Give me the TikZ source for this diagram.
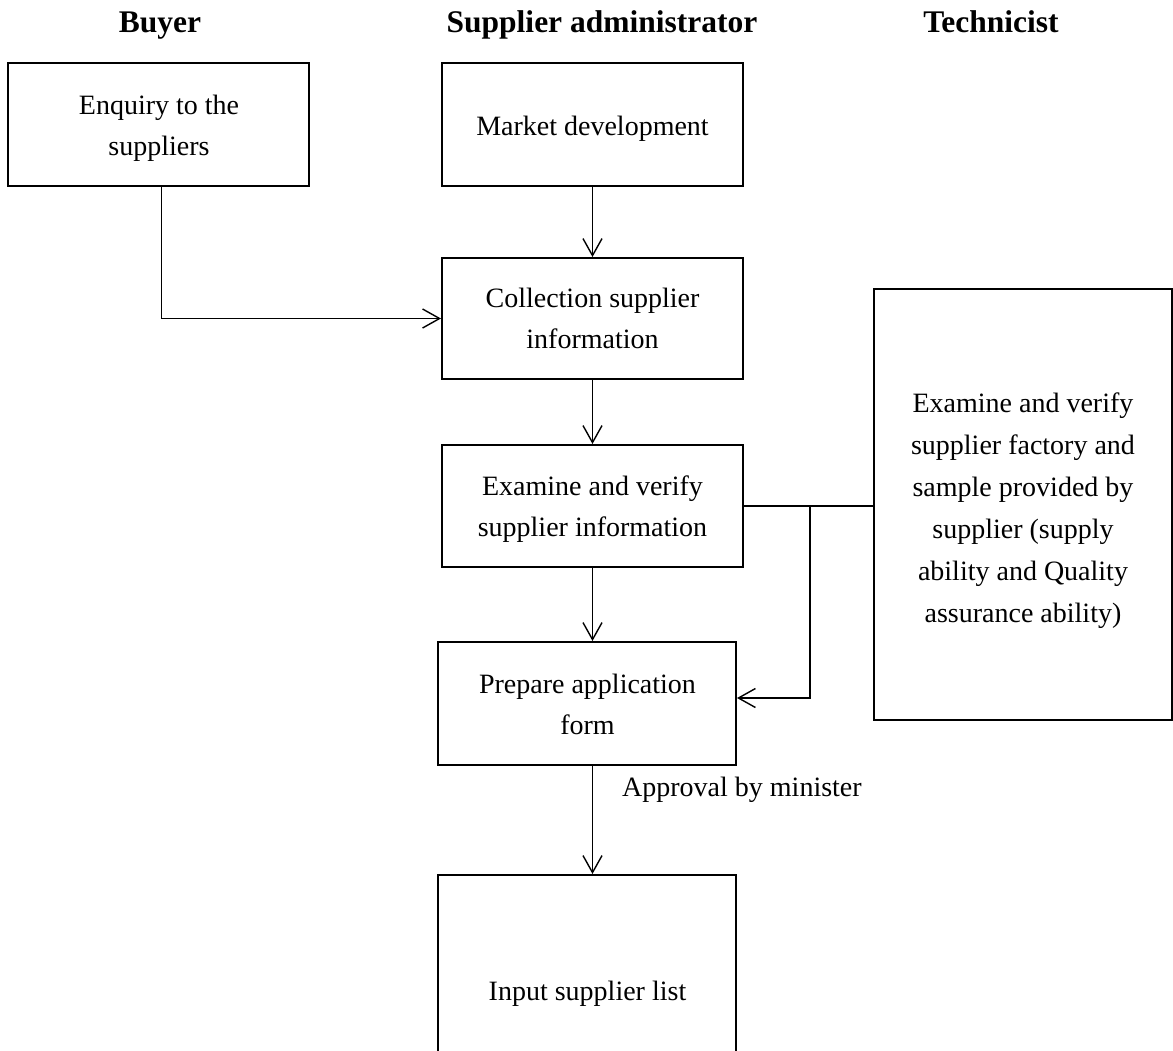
\documentclass[tikz,border=0pt]{standalone}
\usepackage{fontspec}
\setmainfont{Liberation Serif}
\usetikzlibrary{arrows.meta}
\begin{document}
\begin{tikzpicture}[x=1pt,y=-1pt,
  txt/.style={align=center,inner sep=0pt,font=\fontsize{28}{41}\selectfont},
  box/.style={draw,line width=2pt,inner sep=0pt},
  head/.style={inner sep=0pt,anchor=base,font=\bfseries\fontsize{31.5}{36}\selectfont},
  flow/.style={line width=1.4pt,-{Straight Barb[length=17pt,width=19pt,line width=1.4pt]}},
  link/.style={line width=1.4pt}]
\useasboundingbox (0,0) rectangle (1173,1050);
\begin{scope}
\clip (0,0) rectangle (1173,1050);
% lane headings
\node[head] (hbuy) at (160,32) {Buyer};
\node[head] (hsup) at (602,32) {Supplier administrator};
\node[head] (htec) at (991,32) {Technicist};
% process boxes
\node[box,minimum width=301pt,minimum height=123pt] (enq) at (158.5,124.5) {};
\node[txt] (enqt) at (159,128) {Enquiry to the\\suppliers};
\node[box,minimum width=301pt,minimum height=123pt] (mkt) at (592.5,124.5) {};
\node[txt,anchor=base] (mktt) at (592.5,135) {Market development};
\node[box,minimum width=301pt,minimum height=121pt] (col) at (592.5,318.5) {};
\node[txt] (colt) at (592.5,318) {Collection supplier\\information};
\node[box,minimum width=301pt,minimum height=122pt] (exa) at (592.5,506) {};
\node[txt] (exat) at (592.5,509) {Examine and verify\\supplier information};
\node[box,minimum width=298pt,minimum height=123pt] (pre) at (587,703.5) {};
\node[txt] (pret) at (587.5,704) {Prepare application\\form};
\node[box,minimum width=298pt,minimum height=190pt] (inp) at (587,970) {};
\node[txt,anchor=base] (inpt) at (587.5,1000) {Input supplier list};
\node[box,minimum width=298pt,minimum height=431pt] (tec) at (1023,504.5) {};
\node[txt,font=\fontsize{28}{42}\selectfont] (tect) at (1023,510.5)
  {Examine and verify\\supplier factory and\\sample provided by\\supplier (supply\\ability and Quality\\assurance ability)};
% connectors
\draw[flow] ([xshift=3pt]enq.south) |- (col.west);
\draw[flow] (mkt.south) -- (col.north);
\draw[flow] (col.south) -- (exa.north);
\draw[flow] (exa.south) -- (exa.south |- pre.north);
\draw[flow] (exa.south |- pre.south) -- (exa.south |- inp.north);
\node[txt,anchor=base west] (appr) at (622,796) {Approval by minister};
\draw[link] (exa.east) -- (exa.east -| tec.west);
\coordinate (br) at (810,506);
\draw[flow] (br) |- (pre.east |- 0,698);
\end{scope}
\end{tikzpicture}
\end{document}
